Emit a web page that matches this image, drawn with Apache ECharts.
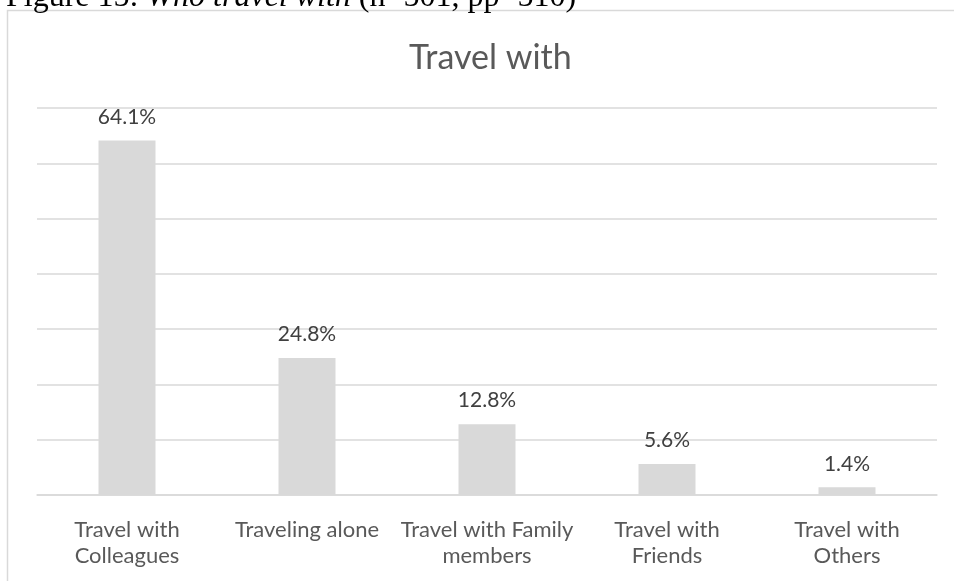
<!DOCTYPE html>
<html>
<head>
<meta charset="utf-8">
<script src="https://cdn.jsdelivr.net/npm/echarts@6/dist/echarts.min.js"></script>
<style>
  html, body { margin: 0; padding: 0; background: #fff; }
  #chart { width: 954px; height: 581px; }
</style>
</head>
<body>
<div id="chart"></div>
<script>
// Who the respondents travel with (share of respondents, %)
const categories = [
  'Travel with\nColleagues',
  'Traveling alone',
  'Travel with Family\nmembers',
  'Travel with\nFriends',
  'Travel with\nOthers'
];
const shares = [64.1, 24.8, 12.8, 5.6, 1.4];
const captionParts = ['Figure 15: ', 'Who travel with', ' (n=501, pp=510)'];
const chartTitle = 'Travel with';

const fontUI = 'Lato, "Open Sans", sans-serif';
const fontSerif = '"Liberation Serif", "Times New Roman", serif';

const chart = echarts.init(document.getElementById('chart'), null, { renderer: 'canvas' });
chart.setOption({
  animation: false,
  backgroundColor: '#ffffff',
  title: {
    text: chartTitle,
    left: 404,
    top: 36,
    textStyle: { fontFamily: fontUI, fontSize: 34, fontWeight: 'normal', color: '#595959' }
  },
  graphic: [
    {
      // chart frame
      type: 'rect',
      shape: { x: 7.5, y: 10.5, width: 1000, height: 700 },
      style: { fill: 'none', stroke: '#d9d9d9', lineWidth: 1.5 },
      silent: true
    },
    {
      // figure caption above the frame
      type: 'text',
      x: 6,
      y: -2,
      style: {
        text: '{n|' + captionParts[0] + '}{i|' + captionParts[1] + '}{n|' + captionParts[2] + '}',
        verticalAlign: 'middle',
        rich: {
          n: { fontFamily: fontSerif, fontSize: 32, color: '#000' },
          i: { fontFamily: fontSerif, fontSize: 32, fontStyle: 'italic', color: '#000' }
        }
      },
      silent: true
    }
  ],
  grid: { left: 37, right: 17, top: 108, bottom: 86 },
  xAxis: {
    type: 'category',
    data: categories,
    axisLine: { show: true, lineStyle: { color: '#d9d9d9', width: 1.5 } },
    axisTick: { show: false },
    axisLabel: {
      interval: 0,
      margin: 22,
      fontFamily: fontUI,
      fontSize: 22,
      lineHeight: 26,
      color: '#595959'
    }
  },
  yAxis: {
    type: 'value',
    min: 0,
    max: 70,
    interval: 10,
    axisLabel: { show: false },
    axisLine: { show: false },
    axisTick: { show: false },
    splitLine: { lineStyle: { color: '#d9d9d9', width: 1.5 } }
  },
  series: [{
    type: 'bar',
    data: shares,
    barWidth: 57,
    itemStyle: { color: '#d9d9d9' },
    label: {
      show: true,
      position: 'top',
      distance: 13,
      formatter: p => p.value.toFixed(1) + '%',
      fontFamily: fontUI,
      fontSize: 21,
      color: '#404040'
    }
  }]
});
</script>
</body>
</html>
